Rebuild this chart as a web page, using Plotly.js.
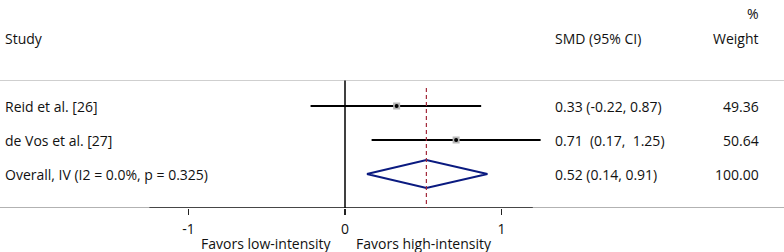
<!DOCTYPE html>
<html>
<head>
<meta charset="utf-8">
<script src="https://cdn.plot.ly/plotly-3.0.1.min.js"></script>
<style>html,body{margin:0;padding:0;background:#fff;}#chart{width:784px;height:252px;}</style>
</head>
<body>
<div id="chart"></div>
<script>
// ---- data ----
const studies = ["Reid et al. [26]", "de Vos et al. [27]"];
const smd = [0.33, 0.71];
const ciLow = [-0.22, 0.17];
const ciHigh = [0.87, 1.25];
const ciText = ["0.33 (-0.22, 0.87)", "0.71\u00a0 (0.17,\u00a0 1.25)"];
const weights = ["49.36", "50.64"];
const overallLabel = "Overall, IV (I2 = 0.0%, p = 0.325)";
const overallSmd = 0.52;
const overallLow = 0.14;
const overallHigh = 0.91;
const overallText = "0.52 (0.14, 0.91)";
const overallWeight = "100.00";
const tickVals = [-1, 0, 1];
const tickText = ["-1", "0", "1"];
const leftLabel = "Favors low-intensity";
const rightLabel = "Favors high-intensity";

// ---- layout helpers ----
const W = 784, H = 252;
const FONT = "Open Sans";
const fs = 14;
const rows = studies.map((_, i) => i + 1);
const overallRow = studies.length + 1;
const px = p => p / W;

const traces = [];
// CI lines
studies.forEach((s, i) => {
  traces.push({x: [ciLow[i], ciHigh[i]], y: [rows[i], rows[i]], mode: "lines",
    line: {color: "#000", width: 2}, hoverinfo: "skip", showlegend: false});
});
// boxes
traces.push({x: smd, y: rows, mode: "markers", marker: {symbol: "square", size: 7, color: "#b8b8b8"},
  hoverinfo: "skip", showlegend: false});
traces.push({x: smd, y: rows, mode: "markers", marker: {symbol: "circle", size: 4, color: "#000"},
  hoverinfo: "skip", showlegend: false});
// diamond
const dh = 0.41;
traces.push({x: [overallLow, overallSmd, overallHigh, overallSmd, overallLow],
  y: [overallRow, overallRow - dh, overallRow, overallRow + dh, overallRow], mode: "lines",
  line: {color: "#0a1a80", width: 2}, hoverinfo: "skip", showlegend: false});

const ann = [];
const addText = (text, xPx, y, anchor, yref) => ann.push({text, x: px(xPx), xref: "paper", y, yref: yref || "y",
  xanchor: anchor, yanchor: "middle", showarrow: false, font: {family: FONT, size: fs, color: "#111"}});
addText("Study", 3, -1, "left");
addText("SMD (95% CI)", 553, -1, "left");
addText("Weight", 761, -1, "right");
addText("%", 761, -1.72, "right");
studies.forEach((s, i) => {
  addText(s, 3, rows[i], "left");
  addText(ciText[i], 553, rows[i], "left");
  addText(weights[i], 761, rows[i], "right");
});
addText(overallLabel, 3, overallRow, "left");
addText(overallText, 553, overallRow, "left");
addText(overallWeight, 761, overallRow, "right");
ann.push({text: leftLabel, x: -0.07, xref: "x", y: -35/208, yref: "paper", xanchor: "right", yanchor: "middle",
  showarrow: false, font: {family: FONT, size: fs, color: "#111"}});
ann.push({text: rightLabel, x: 0.06, xref: "x", y: -35/208, yref: "paper", xanchor: "left", yanchor: "middle",
  showarrow: false, font: {family: FONT, size: fs, color: "#111"}});

const shapes = [
  {type: "line", xref: "paper", x0: 0, x1: 1, yref: "y", y0: 0.25, y1: 0.25, line: {color: "#cfcfcf", width: 1.2}},
  {type: "line", xref: "paper", x0: 0, x1: 1, yref: "y", y0: 4, y1: 4, line: {color: "#999", width: 1.3}},
  {type: "line", xref: "x", x0: -1.25, x1: 1.2, yref: "y", y0: 4, y1: 4, line: {color: "#222", width: 1.3}},
  {type: "line", xref: "x", x0: 0, x1: 0, yref: "y", y0: 0.25, y1: 4, line: {color: "#000", width: 1.5}},
  {type: "line", xref: "x", x0: overallSmd, x1: overallSmd, yref: "y", y0: 0.47, y1: 4,
    line: {color: "#a3283a", width: 1.2, dash: "4px,3px"}}
];

const layout = {
  width: W, height: H,
  margin: {l: 0, r: 0, t: 0, b: 44},
  paper_bgcolor: "#fff", plot_bgcolor: "#fff",
  showlegend: false,
  xaxis: {range: [-345/156.5, (W - 345)/156.5], tickvals: tickVals, ticktext: tickText, ticks: "outside",
    ticklen: 6, tickwidth: 1.5, tickcolor: "#222", showgrid: false, zeroline: false, showline: false,
    ticklabelstandoff: 2,
    tickfont: {family: FONT, size: fs, color: "#111"}, fixedrange: true},
  yaxis: {range: [4, 4 - 208/34], showgrid: false, zeroline: false, showline: false, showticklabels: false,
    ticks: "", fixedrange: true},
  annotations: ann,
  shapes: shapes,
  font: {family: FONT, size: fs}
};
Plotly.newPlot("chart", traces, layout, {staticPlot: true, displayModeBar: false});
</script>
</body>
</html>
